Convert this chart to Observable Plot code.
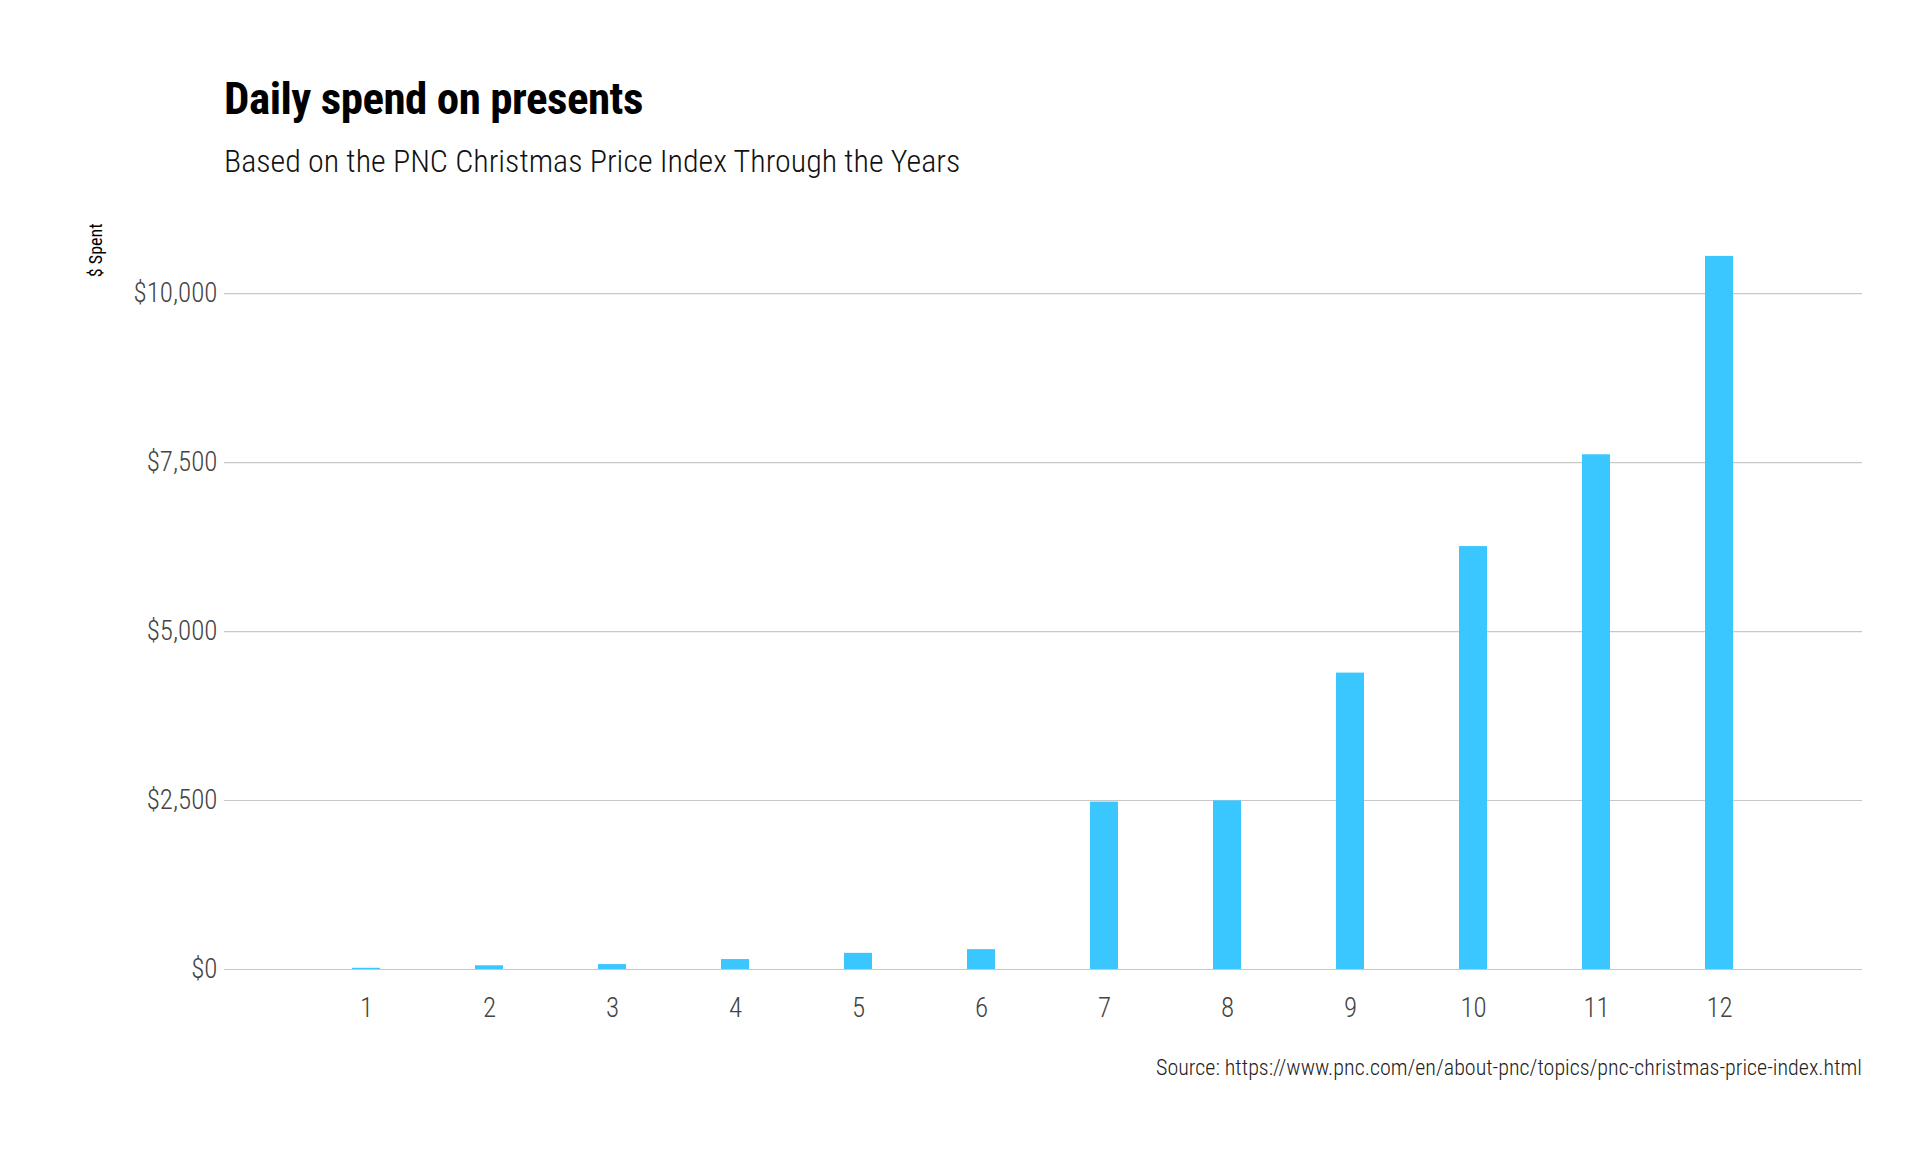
<!DOCTYPE html>
<html>
<head>
<meta charset="utf-8">
<script src="https://cdn.jsdelivr.net/npm/d3@7"></script>
<script src="https://cdn.jsdelivr.net/npm/@observablehq/plot@0.6"></script>
<style>
  body { margin: 0; background: #fff; font-family: "Roboto Condensed", Roboto, sans-serif; }
  #wrap { position: relative; width: 1920px; height: 1152px; }
  h1 { position: absolute; left: 224px; top: 72px; margin: 0; font-size: 45px; font-weight: 700; color: #000; letter-spacing: -0.5px; }
  h2 { position: absolute; left: 224px; top: 142px; margin: 0; font-size: 32px; font-weight: 300; color: #111; }
  #chart { position: absolute; left: 0; top: 223px; }
  #src { position: absolute; right: 58px; top: 1055px; font-size: 22px; font-weight: 300; color: #222; }
</style>
</head>
<body>
<div id="wrap">
  <h1>Daily spend on presents</h1>
  <h2>Based on the PNC Christmas Price Index Through the Years</h2>
  <div id="chart"></div>
  <div id="src">Source: https://www.pnc.com/en/about-pnc/topics/pnc-christmas-price-index.html</div>
</div>
<script>
  // Day of Christmas and dollars spent that day
  const days = [1, 2, 3, 4, 5, 6, 7, 8, 9, 10, 11, 12];
  const spent = [18, 55, 73, 147, 239, 294, 2477, 2495, 4385, 6257, 7615, 10550];
  const yTicks = [0, 2500, 5000, 7500, 10000];
  const yLabel = ["$ Spent"];

  const data = days.map((d, i) => ({ day: d, spent: spent[i] }));

  const chart = Plot.plot({
    width: 1920,
    height: 821,
    marginLeft: 224,
    marginRight: 58,
    marginTop: 16,
    marginBottom: 75,
    style: { fontFamily: "'Roboto Condensed', Roboto, sans-serif", fontSize: "27px", fontWeight: 300, color: "#444", background: "transparent" },
    x: { domain: days, paddingInner: 0.77, paddingOuter: 1.02, label: null },
    y: { domain: [0, 10800], label: null },
    marks: [
      Plot.gridY(yTicks, { stroke: "#c8c8c8", strokeOpacity: 1, strokeWidth: 1.2 }),
      Plot.ruleY([0], { stroke: "#c8c8c8", strokeWidth: 1.2 }),
      Plot.barY(data, { x: "day", y: "spent", fill: "#3ac7ff" }),
      Plot.axisY(yTicks, { tickSize: 0, tickPadding: 7, tickFormat: d => "$" + d3.format(",")(d), label: null }),
      Plot.axisX({ tickSize: 0, tickPadding: 28, label: null }),
      Plot.text(yLabel, { frameAnchor: "top-left", rotate: -90, textAnchor: "end", dx: -135, dy: -16, fontSize: 18, fontWeight: 400, fill: "#000" })
    ]
  });
  document.getElementById("chart").appendChild(chart);
</script>
</body>
</html>
